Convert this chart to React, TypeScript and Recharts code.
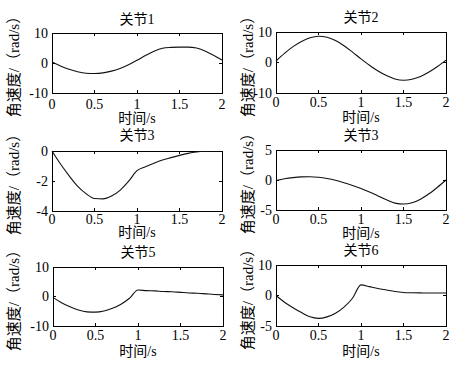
import React from "react";
import { LineChart, Line, XAxis, YAxis, ReferenceArea } from "recharts";

// sample times, seconds
const TIME = [0, 0.1, 0.2, 0.3, 0.4, 0.5, 0.6, 0.7, 0.8, 0.9, 1.0, 1.1, 1.2, 1.3, 1.4, 1.5, 1.6, 1.7, 1.8, 1.9, 2.0];

// joint angular velocities (rad/s)
const JOINT1 = [0.3, -1.0, -2.1, -2.9, -3.4, -3.5, -3.3, -2.7, -1.8, -0.6, 0.9, 2.5, 3.9, 4.9, 5.2, 5.3, 5.3, 5.0, 4.0, 2.6, 1.0];
const JOINT2 = [0.5, 3.0, 5.2, 6.9, 8.1, 8.6, 8.3, 7.2, 5.5, 3.4, 1.2, -0.9, -2.8, -4.3, -5.4, -5.8, -5.5, -4.6, -3.1, -1.3, 0.8];
const JOINT3 = [0, -0.87, -1.64, -2.34, -2.84, -3.17, -3.19, -3.0, -2.62, -2.03, -1.31, -1.05, -0.81, -0.6, -0.44, -0.29, -0.16, -0.07, -0.02, 0, 0];
const JOINT4 = [-0.1, 0.2, 0.4, 0.52, 0.55, 0.45, 0.25, -0.05, -0.45, -0.9, -1.4, -2.0, -2.65, -3.3, -3.85, -4.0, -3.8, -3.2, -2.3, -1.2, 0];
const JOINT5 = [-0.3, -2.1, -3.5, -4.6, -5.2, -5.3, -4.9, -4.0, -2.6, -0.6, 2.2, 2.0, 1.9, 1.7, 1.6, 1.4, 1.2, 1.1, 0.9, 0.7, 0.55];
const JOINT6 = [0, -2.2, -4.0, -5.6, -7.0, -7.5, -7.0, -5.8, -3.8, -0.9, 3.5, 2.9, 2.3, 1.8, 1.3, 1.0, 0.9, 0.85, 0.8, 0.8, 0.8];

const SERIES = [JOINT1, JOINT2, JOINT3, JOINT4, JOINT5, JOINT6];
const TITLES = ["关节1", "关节2", "关节3", "关节3", "关节5", "关节6"];

const X_TICKS = [0, 0.5, 1, 1.5, 2];
const X_TICK_LABELS = ["0", "0.5", "1", "1.5", "2"];
const Y_DOMAINS = [[-10, 10], [-10, 10], [-4, 0], [-5, 5], [-10, 10], [-10, 10]];
const Y_TICKS = [[-10, 0, 10], [-10, 0, 10], [-4, -2, 0], [-5, 0, 5], [-10, 0, 10], [-10, 0, 10]];
const Y_TICK_LABELS = [
  ["-10", "0", "10"],
  ["-10", "0", "10"],
  ["-4", "-2", "0"],
  ["-5", "0", "5"],
  ["-10", "0", "10"],
  ["-5", "0", "10"],
];

const X_LABEL = "时间/s";
const Y_LABEL = "角速度/（rad/s）";

// plot boxes and label spots on the page
const LAYOUT = [
  { left: 52, top: 33, w: 170, h: 60, xm: 11, titleY: 20, xlabY: 119, ylabX: 13.5 },
  { left: 276, top: 32, w: 170, h: 61, xm: 9, titleY: 18, xlabY: 118, ylabX: 247.5 },
  { left: 52, top: 151, w: 170, h: 60, xm: 8, titleY: 136, xlabY: 233, ylabX: 13.5 },
  { left: 276, top: 150, w: 170, h: 60, xm: 9, titleY: 136, xlabY: 234, ylabX: 247.5 },
  { left: 53, top: 267, w: 170, h: 59, xm: 9, titleY: 253, xlabY: 352, ylabX: 13.5 },
  { left: 276, top: 265, w: 170, h: 61, xm: 9, titleY: 251, xlabY: 352, ylabX: 247.5 },
];

const FONT = "'Liberation Serif', 'Noto Sans CJK SC', serif";
const INK = "#000";
const YM = 4;
const TICK = 3;

type Box = (typeof LAYOUT)[number];

const XTick = (box: Box) => (props: any) => {
  const { x, y, payload } = props;
  const bottom = y - box.xm;
  const top = bottom - box.h;
  const label = X_TICK_LABELS[X_TICKS.indexOf(payload.value)];
  return (
    <g>
      <line x1={x} x2={x} y1={bottom} y2={bottom - TICK} stroke={INK} shapeRendering="crispEdges" />
      <line x1={x} x2={x} y1={top} y2={top + TICK} stroke={INK} shapeRendering="crispEdges" />
      <text x={x} y={y} textAnchor="middle" dominantBaseline="central" fontFamily={FONT} fontSize={14} fill={INK}>
        {label}
      </text>
    </g>
  );
};

const YTick = (box: Box, i: number) => (props: any) => {
  const { x, y, payload } = props;
  const left = x + YM;
  const right = left + box.w;
  const label = Y_TICK_LABELS[i][Y_TICKS[i].indexOf(payload.value)];
  return (
    <g>
      <line x1={left} x2={left + TICK} y1={y} y2={y} stroke={INK} shapeRendering="crispEdges" />
      <line x1={right - TICK} x2={right} y1={y} y2={y} stroke={INK} shapeRendering="crispEdges" />
      <text x={x} y={y} textAnchor="end" dominantBaseline="central" fontFamily={FONT} fontSize={14} fill={INK}>
        {label}
      </text>
    </g>
  );
};

const Panel = ({ i }: { i: number }) => {
  const box = LAYOUT[i];
  const data = TIME.map((t, k) => ({ t, v: SERIES[i][k] }));
  const [ymin, ymax] = Y_DOMAINS[i];
  const text: React.CSSProperties = {
    position: "absolute",
    fontFamily: FONT,
    color: INK,
    lineHeight: 1,
    whiteSpace: "nowrap",
  };
  return (
    <>
      <div style={{ position: "absolute", left: box.left - 40, top: box.top - 10 }}>
        <LineChart width={box.w + 50} height={box.h + 40} data={data} margin={{ top: 10, right: 10, bottom: 0, left: 0 }}>
          <XAxis
            dataKey="t"
            type="number"
            domain={[0, 2]}
            ticks={X_TICKS}
            interval={0}
            height={30}
            axisLine={false}
            tickLine={false}
            tickSize={0}
            tickMargin={box.xm}
            tick={XTick(box)}
          />
          <YAxis
            type="number"
            domain={[ymin, ymax]}
            ticks={Y_TICKS[i]}
            interval={0}
            width={40}
            axisLine={false}
            tickLine={false}
            tickSize={0}
            tickMargin={YM}
            tick={YTick(box, i)}
            allowDataOverflow
          />
          <ReferenceArea x1={0} x2={2} y1={ymin} y2={ymax} fill="none" fillOpacity={0} stroke={INK} strokeWidth={1} shapeRendering="crispEdges" />
          <Line dataKey="v" type="monotone" stroke="#111" strokeWidth={1.1} dot={false} isAnimationActive={false} />
        </LineChart>
      </div>
      <div style={{ ...text, left: box.left + box.w / 2, top: box.titleY, fontSize: 14, transform: "translate(-50%, -50%)" }}>
        {TITLES[i]}
      </div>
      <div style={{ ...text, left: box.left + box.w / 2, top: box.xlabY, fontSize: 14, transform: "translate(-50%, -50%)" }}>
        {X_LABEL}
      </div>
      <div style={{ ...text, left: box.ylabX, top: box.top + box.h / 2, fontSize: 15, transform: "translate(-50%, -50%) rotate(-90deg)" }}>
        {Y_LABEL}
      </div>
    </>
  );
};

export default function App() {
  return (
    <div style={{ position: "absolute", left: 0, top: 0, width: 472, height: 369, background: "#fff", overflow: "hidden" }}>
      {LAYOUT.map((_, i) => (
        <Panel key={i} i={i} />
      ))}
    </div>
  );
}
